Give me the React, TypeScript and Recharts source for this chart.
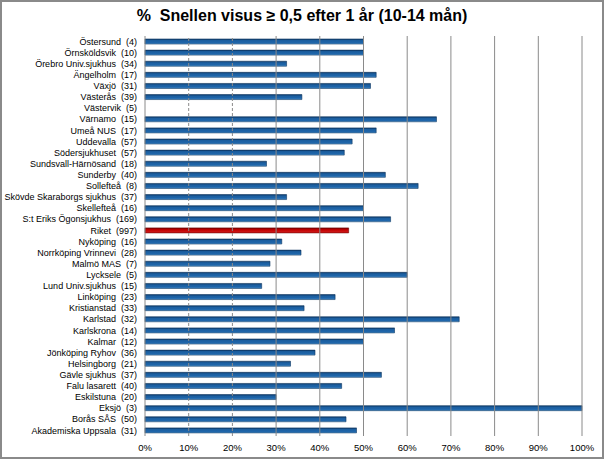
import React from 'react';
import { BarChart, Bar, XAxis, YAxis, Cell, ReferenceLine } from 'recharts';

const SP = '\u00a0 ';

const clinics = [
  'Östersund', 'Örnsköldsvik', 'Örebro Univ.sjukhus', 'Ängelholm', 'Växjö', 'Västerås',
  'Västervik', 'Värnamo', 'Umeå NUS', 'Uddevalla', 'Södersjukhuset', 'Sundsvall-Härnösand',
  'Sunderby', 'Sollefteå', 'Skövde Skaraborgs sjukhus', 'Skellefteå', 'S:t Eriks Ögonsjukhus',
  'Riket', 'Nyköping', 'Norrköping Vrinnevi', 'Malmö MAS', 'Lycksele', 'Lund Univ.sjukhus',
  'Linköping', 'Kristianstad', 'Karlstad', 'Karlskrona', 'Kalmar', 'Jönköping Ryhov',
  'Helsingborg', 'Gävle sjukhus', 'Falu lasarett', 'Eskilstuna', 'Eksjö', 'Borås SÅS',
  'Akademiska Uppsala',
];

const counts = [
  4, 10, 34, 17, 31, 39, 5, 15, 17, 57, 57, 18, 40, 8, 37, 16, 169, 997, 16, 28, 7, 5, 15,
  23, 33, 32, 14, 12, 36, 21, 37, 40, 20, 3, 50, 31,
];

const percents = [
  50, 50, 32.4, 52.9, 51.6, 35.9, 0, 66.7, 52.9, 47.4, 45.6, 27.8, 55, 62.5, 32.4, 50, 56.2,
  46.6, 31.3, 35.7, 28.6, 60, 26.7, 43.5, 36.4, 71.9, 57.1, 50, 38.9, 33.3, 54.1, 45, 30, 100,
  46, 48.4,
];

const xTicks = [0, 10, 20, 30, 40, 50, 60, 70, 80, 90, 100];
const dashedGrid = [10, 20];
const solidGrid = [30, 40, 50, 60, 70, 80, 90, 100];
const highlight = 'Riket';

const data = clinics.map((c, i) => ({
  name: `${c}${SP}(${counts[i]})`,
  clinic: c,
  value: percents[i],
}));

const FONT = '"Liberation Sans", Arial, sans-serif';

const CategoryTick = (props: any) => {
  const { x, y, payload } = props;
  return (
    <text
      x={x}
      y={y}
      dy="0.35em"
      textAnchor="end"
      fontSize={9}
      fontFamily={FONT}
      fill="#000"
      style={{ whiteSpace: 'pre' }}
    >
      {payload.value}
    </text>
  );
};

export default function App() {
  return (
    <div
      style={{
        position: 'absolute',
        left: 0,
        top: 0,
        width: 604,
        height: 459,
        boxSizing: 'border-box',
        border: '2px solid #8a8a8a',
        background: '#fff',
        fontFamily: FONT,
      }}
    >
      <div
        style={{
          position: 'absolute',
          left: 0,
          top: 6,
          width: 600,
          textAlign: 'center',
          fontSize: 16,
          lineHeight: '16px',
          fontWeight: 'bold',
          color: '#000',
          whiteSpace: 'pre',
        }}
      >
        {'%\u00a0 Snellen visus ≥ 0,5 efter 1 år (10-14 mån)'}
      </div>
      <div style={{ position: 'absolute', left: 0, top: 0 }}>
        <BarChart
          width={600}
          height={455}
          data={data}
          layout="vertical"
          margin={{ top: 34, right: 20, left: 0, bottom: 1 }}
          barCategoryGap="10%"
        >
          <defs>
            <linearGradient id="blueBar" x1="0" y1="0" x2="0" y2="1">
              <stop offset="0%" stopColor="#0f3a68" />
              <stop offset="30%" stopColor="#1b5e9f" />
              <stop offset="75%" stopColor="#1f66ab" />
              <stop offset="100%" stopColor="#5b9fd6" />
            </linearGradient>
            <linearGradient id="redBar" x1="0" y1="0" x2="0" y2="1">
              <stop offset="0%" stopColor="#7a0000" />
              <stop offset="35%" stopColor="#c00000" />
              <stop offset="100%" stopColor="#d42020" />
            </linearGradient>
          </defs>
          <XAxis
            type="number"
            domain={[0, 100]}
            ticks={xTicks}
            tickFormatter={(v) => `${v}%`}
            axisLine={false}
            tickLine={false}
            height={20}
            interval={0}
            tick={{ fontSize: 9.5, fill: '#000', fontFamily: FONT }}
          />
          <YAxis
            type="category"
            dataKey="name"
            width={143}
            interval={0}
            tickLine={false}
            axisLine={{ stroke: '#8a8a8a' }}
            tick={<CategoryTick />}
          />
          {dashedGrid.map((v) => (
            <ReferenceLine key={`d${v}`} x={v} stroke="#8a8a8a" strokeDasharray="3 2" ifOverflow="extendDomain" />
          ))}
          {solidGrid.map((v) => (
            <ReferenceLine key={`s${v}`} x={v} stroke="#8a8a8a" ifOverflow="extendDomain" />
          ))}
          <Bar dataKey="value" barSize={5} isAnimationActive={false} stroke="#0d3561" strokeWidth={0.6}>
            {data.map((d) => (
              <Cell
                key={d.name}
                fill={d.clinic === highlight ? 'url(#redBar)' : 'url(#blueBar)'}
                stroke={d.clinic === highlight ? '#6a0000' : '#0d3561'}
              />
            ))}
          </Bar>
        </BarChart>
      </div>
    </div>
  );
}
